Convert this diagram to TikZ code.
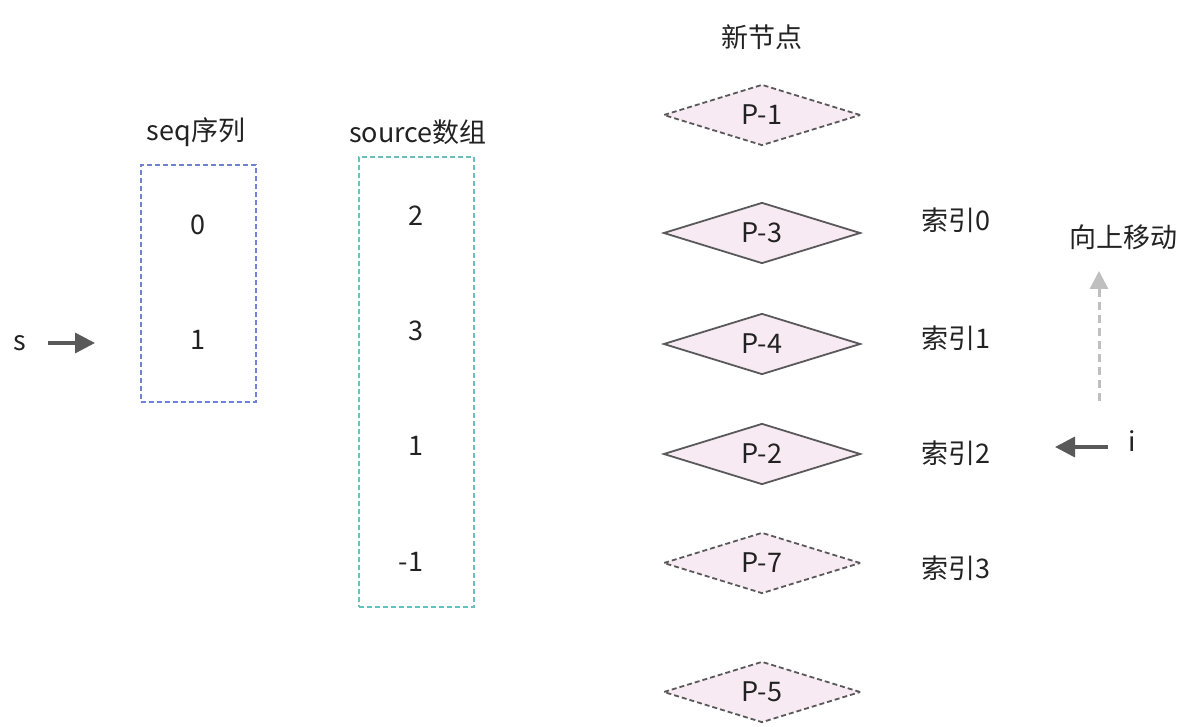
\documentclass[tikz,border=0pt]{standalone}
\usepackage{fontspec}
\setmainfont{Noto Sans CJK SC}
\usetikzlibrary{shapes.geometric,arrows.meta}
\definecolor{dk}{HTML}{595959}
\definecolor{pinkf}{HTML}{F8EAF2}
\definecolor{seqc}{HTML}{6F82D6}
\definecolor{srcc}{HTML}{66C2BC}
\definecolor{lg}{HTML}{BFBFBF}
\definecolor{txt}{HTML}{222222}
\tikzset{
  lbl/.style={inner sep=0pt, text=txt, font=\fontsize{27}{31}\selectfont},
  dia/.style={diamond, draw=dk, fill=pinkf, line width=1.8pt, minimum width=197pt, minimum height=61pt, inner sep=0pt, text=txt, font=\fontsize{27}{31}\selectfont},
  diadash/.style={dia, dash pattern=on 5pt off 3pt},
  box/.style={rectangle, line width=1.5pt, dash pattern=on 5pt off 3pt, inner sep=0pt},
  darrow/.style={draw=dk, line width=3.5pt, -{Triangle[length=20pt,width=20pt]}},
}
\begin{document}
\begin{tikzpicture}[x=1pt,y=-1pt]
\useasboundingbox (0,0) rectangle (1195,727);
% left pointer
\node[lbl] (s) at (20,343) {s};
\coordinate (sa) at (48,343);
\coordinate (sb) at (95,343);
\draw[darrow] (sa) -- (sb);
% seq box
\node[box, draw=seqc, minimum width=115pt, minimum height=237pt] (seq) at (198.5,283.5) {};
\node[lbl] (seqt) at (196,132) {seq序列};
\node[lbl] (q0) at (198,225) {0};
\node[lbl] (q1) at (198,340) {1};
% source box
\node[box, draw=srcc, minimum width=115pt, minimum height=450pt] (src) at (416.5,382) {};
\node[lbl] (srct) at (418,132) {source数组};
\node[lbl] (r0) at (416,216) {2};
\node[lbl] (r1) at (416,331) {3};
\node[lbl] (r2) at (416,446) {1};
\node[lbl] (r3) at (411,562) {-1};
% new nodes
\node[lbl] (newt) at (762,37) {新节点};
\node[diadash] (p1) at (762,115) {P-1};
\node[dia] (p3) at (762,233) {P-3};
\node[dia] (p4) at (762,344) {P-4};
\node[dia] (p2) at (762,454) {P-2};
\node[diadash] (p7) at (762,563) {P-7};
\node[diadash] (p5) at (762,692) {P-5};
% index labels
\node[lbl] (i0) at (956,220) {索引0};
\node[lbl] (i1) at (956,338) {索引1};
\node[lbl] (i2) at (956,453) {索引2};
\node[lbl] (i3) at (956,568) {索引3};
% move up
\node[lbl] (up) at (1123,237) {向上移动};
\coordinate (ua) at (1099,401);
\coordinate (ub) at (1099,271);
\draw[draw=lg, line width=3pt, dash pattern=on 8pt off 5pt, -{Triangle[length=18pt,width=18pt]}] (ua) -- (ub);
% i pointer
\node[lbl] (it) at (1132,441) {i};
\coordinate (ia) at (1108,447);
\coordinate (ib) at (1055,447);
\draw[darrow] (ia) -- (ib);
\end{tikzpicture}
\end{document}
